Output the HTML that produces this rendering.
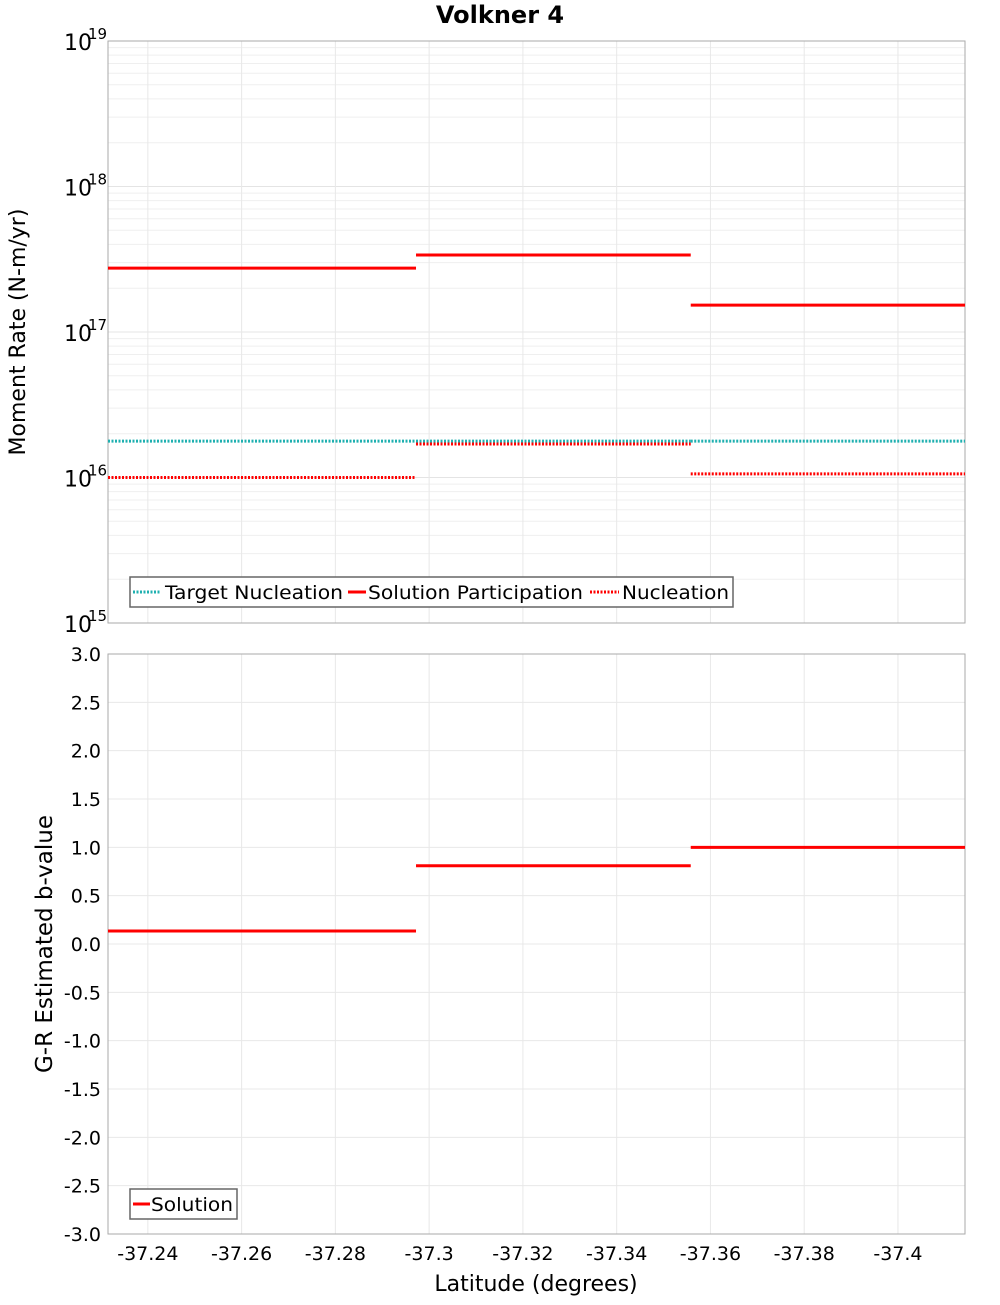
<!DOCTYPE html>
<html><head><meta charset="utf-8"><style>
body{margin:0;background:#fff;width:1000px;height:1300px;overflow:hidden}
svg{font-family:"DejaVu Sans","Liberation Sans",sans-serif}
</style></head><body>
<svg id="chart" width="1000" height="1300" xmlns="http://www.w3.org/2000/svg"></svg>
<script>
// data
const segEdges = [-37.2315, -37.2972, -37.3558, -37.4143];
const solutionParticipation = [2.75e17, 3.38e17, 1.53e17];
const targetNucleation = [1.78e16, 1.78e16, 1.78e16];
const nucleation = [1.0e16, 1.7e16, 1.06e16];
const bValues = [0.135, 0.81, 1.0];
const xTicks = [-37.24, -37.26, -37.28, -37.3, -37.32, -37.34, -37.36, -37.38, -37.4];
const xTickLabels = ["-37.24","-37.26","-37.28","-37.3","-37.32","-37.34","-37.36","-37.38","-37.4"];
const logTicks = [15, 16, 17, 18, 19];
const bTicks = [3.0,2.5,2.0,1.5,1.0,0.5,0.0,-0.5,-1.0,-1.5,-2.0,-2.5,-3.0];

const svg = document.getElementById('chart');
const NS = 'http://www.w3.org/2000/svg';
function mk(tag, attrs, parent, text){
  const e = document.createElementNS(NS, tag);
  for (const k in attrs) e.setAttribute(k, attrs[k]);
  if (text !== undefined) e.textContent = text;
  (parent || svg).appendChild(e);
  return e;
}
const L = 108, R = 965;
const T1 = 41, B1 = 623, T2 = 654, B2 = 1234;
const xScale = v => L + (v - segEdges[0]) / (segEdges[3] - segEdges[0]) * (R - L);
const yLog = v => B1 - (Math.log10(v) - 15) / 4 * (B1 - T1);
const yB = v => B2 - (v + 3) / 6 * (B2 - T2);

const g1 = mk('g', {});


for (let d = 15; d < 19; d++) for (let m = 1; m <= 9; m++) {
  const y = yLog(m * Math.pow(10, d));
  mk('line', {x1:L, x2:R, y1:y, y2:y, stroke: m===1?'#e4e4e4':'#efefef', 'stroke-width':1}, g1);
}
for (const t of xTicks) { const x = xScale(t); mk('line', {x1:x,x2:x,y1:T1,y2:B1,stroke:'#e8e8e8'}, g1); }
const g2 = mk('g', {});


for (const t of bTicks) { const y = yB(t); mk('line', {x1:L,x2:R,y1:y,y2:y,stroke:'#e8e8e8'}, g2); }
for (const t of xTicks) { const x = xScale(t); mk('line', {x1:x,x2:x,y1:T2,y2:B2,stroke:'#e8e8e8'}, g2); }

const f1 = mk('rect', {x:L, y:T1, width:R-L, height:B1-T1, fill:'none', stroke:'#aaa'});


const f2 = mk('rect', {x:L, y:T2, width:R-L, height:B2-T2, fill:'none', stroke:'#aaa'});



const title = mk('text', {x:500, y:23, 'text-anchor':'middle', 'font-size':24, 'font-weight':'bold'}, svg, 'Volkner 4');



for (const d of logTicks) {
  const y = yLog(Math.pow(10, d));
  const t = mk('text', {x:64, y:y+9, 'font-size':22}, svg, '10');
  
  
  const s = mk('text', {x:88, y:y-2, 'font-size':15}, svg, String(d));
  
  
}
const yt1 = mk('text', {x:0, y:0, 'font-size':22, 'text-anchor':'middle', transform:'translate(25,332) rotate(-90)'}, svg, 'Moment Rate (N-m/yr)');



for (const t of bTicks) {
  const e = mk('text', {x:101, y:yB(t)+7, 'font-size':19, 'text-anchor':'end'}, svg, t.toFixed(1));
  
  
}
const yt2 = mk('text', {x:0, y:0, 'font-size':23, 'text-anchor':'middle', transform:'translate(52,944) rotate(-90)'}, svg, 'G-R Estimated b-value');



xTicks.forEach((t, i) => {
  const e = mk('text', {x:xScale(t), y:1260, 'font-size':19, 'text-anchor':'middle'}, svg, xTickLabels[i]);
  
  
});
const xt = mk('text', {x:536, y:1291, 'font-size':22, 'text-anchor':'middle'}, svg, 'Latitude (degrees)');



function segs(vals, yf, color, dash, name){
  vals.forEach((v, i) => {
    const y = yf(v);
    const a = {x1:xScale(segEdges[i]), x2:xScale(segEdges[i+1]), y1:y, y2:y, stroke:color, 'stroke-width':3};
    if (dash) a['stroke-dasharray'] = dash;
    const e = mk('line', a);
    
    
  });
}
segs(targetNucleation, yLog, '#1fb0b0', '2,1.5', 'target-nucleation-segment');
segs(nucleation, yLog, '#ff0000', '2,1.5', 'nucleation-segment');
segs(solutionParticipation, yLog, '#ff0000', null, 'solution-participation-segment');
segs(bValues, yB, '#ff0000', null, 'b-value-solution-segment');

const lg1 = mk('g', {});


mk('rect', {x:130, y:577, width:603, height:30, fill:'#fff', stroke:'#666', 'stroke-width':1.5}, lg1);
mk('line', {x1:133,x2:160,y1:592,y2:592,stroke:'#1fb0b0','stroke-width':3,'stroke-dasharray':'2,1.5'}, lg1);
mk('text', {x:165, y:599, 'font-size':19, textLength:178, lengthAdjust:'spacingAndGlyphs'}, lg1, 'Target Nucleation');
mk('line', {x1:348,x2:366,y1:592,y2:592,stroke:'#f00','stroke-width':3}, lg1);
mk('text', {x:368, y:599, 'font-size':19, textLength:215, lengthAdjust:'spacingAndGlyphs'}, lg1, 'Solution Participation');
mk('line', {x1:590,x2:619,y1:592,y2:592,stroke:'#f00','stroke-width':3,'stroke-dasharray':'2,1.5'}, lg1);
mk('text', {x:622, y:599, 'font-size':19, textLength:107, lengthAdjust:'spacingAndGlyphs'}, lg1, 'Nucleation');

const lg2 = mk('g', {});


mk('rect', {x:130, y:1189, width:107, height:30, fill:'#fff', stroke:'#666', 'stroke-width':1.5}, lg2);
mk('line', {x1:133,x2:150,y1:1204,y2:1204,stroke:'#f00','stroke-width':3}, lg2);
mk('text', {x:151, y:1211, 'font-size':19, textLength:82, lengthAdjust:'spacingAndGlyphs'}, lg2, 'Solution');
</script>
</body></html>
